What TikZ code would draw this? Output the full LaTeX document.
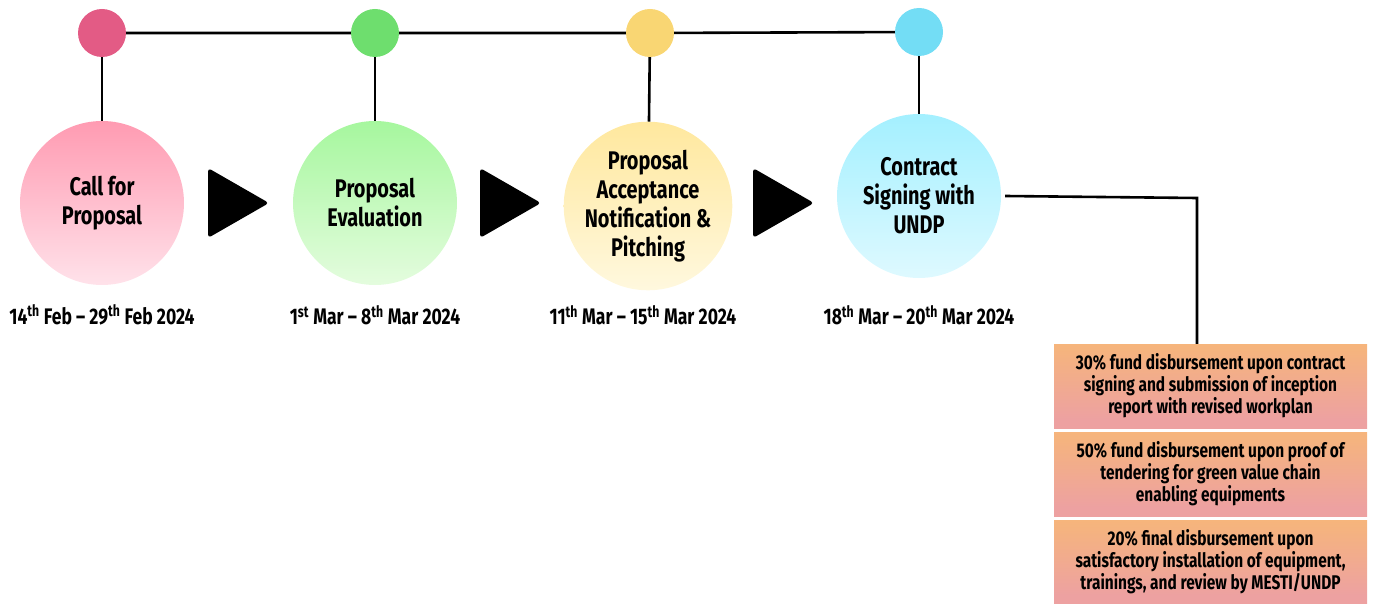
\documentclass[tikz,border=0pt]{standalone}
\usepackage{fontspec}
\setmainfont{Fira Sans}[FakeStretch=0.78]
\usetikzlibrary{calc}
\definecolor{dpink}{HTML}{E35B85}
\definecolor{dgreen}{HTML}{6EDE6E}
\definecolor{dyellow}{HTML}{F9D673}
\definecolor{dcyan}{HTML}{73DDF5}
\definecolor{fsA}{HTML}{F6C7C5}
\definecolor{fsB}{HTML}{EDA1A1}
\definecolor{fsC}{HTML}{F5B37F}
\definecolor{fsD}{HTML}{FABE6B}
\pgfdeclareverticalshading{fundshade}{100bp}{
  color(0bp)=(fsA);
  color(4bp)=(fsA);
  color(22bp)=(fsB);
  color(30bp)=(fsB);
  color(70bp)=(fsC);
  color(100bp)=(fsD)}
\begin{document}
\begin{tikzpicture}[x=1pt,y=-1pt,
  dot/.style={circle,minimum size=48pt,inner sep=0pt},
  stage/.style={circle,minimum size=164pt,inner sep=0pt,align=center,font=\bfseries\fontsize{25.5}{29}\selectfont},
  datelbl/.style={font=\bfseries\fontsize{22.5}{26}\selectfont,inner sep=0pt},
  link/.style={line width=2.6pt,black},
  playtip/.style={fill=black,rounded corners=3.5pt},
  fundbox/.style={rectangle,minimum width=313pt,minimum height=84pt,inner sep=0pt,align=center,
    shading=fundshade,
    font=\bfseries\fontsize{19.8}{22}\selectfont}]
\useasboundingbox (0,0) rectangle (1376,604);
% small dots
\node[dot,fill=dpink] (s1) at (102,33) {};
\node[dot,fill=dgreen] (s2) at (375,33) {};
\node[dot,fill=dyellow] (s3) at (650,33) {};
\node[dot,fill=dcyan] (s4) at (919,32) {};
% stages
\node[stage,top color={rgb,255:red,255;green,155;blue,178},bottom color={rgb,255:red,255;green,226;blue,234}] (c1) at (102,203) {Call for\\Proposal};
\node[stage,top color={rgb,255:red,166;green,247;blue,158},bottom color={rgb,255:red,228;green,252;blue,222}] (c2) at (375,203) {Proposal\\Evaluation};
\node[stage,top color={rgb,255:red,255;green,232;blue,158},bottom color={rgb,255:red,255;green,248;blue,222}] (c3) at (648,206) {Proposal\\Acceptance\\Notification \&\\Pitching};
\node[stage,top color={rgb,255:red,164;green,240;blue,255},bottom color={rgb,255:red,222;green,249;blue,255}] (c4) at (919,196) {Contract\\Signing with\\UNDP};
% connectors
\draw[link] (s1) -- (s2) -- (s3) -- (s4);
\draw[link] (s1) -- (c1);
\draw[link] (s2) -- (c2);
\draw[link] (s3) -- (c3);
\draw[link] (s4) -- (c4);
% play arrows
\fill[playtip] (208,168) -- (269,203) -- (208,238) -- cycle;
\fill[playtip] (480,168) -- (541,203) -- (480,238) -- cycle;
\fill[playtip] (753,168) -- (814,203) -- (753,238) -- cycle;
% dates
\node[datelbl] (d1) at (102,315) {14\textsuperscript{th} Feb -- 29\textsuperscript{th} Feb 2024};
\node[datelbl] (d2) at (375,315) {1\textsuperscript{st} Mar -- 8\textsuperscript{th} Mar 2024};
\node[datelbl] (d3) at (643,315) {11\textsuperscript{th} Mar -- 15\textsuperscript{th} Mar 2024};
\node[datelbl] (d4) at (919,315) {18\textsuperscript{th} Mar -- 20\textsuperscript{th} Mar 2024};
% boxes
\node[fundbox] (b1) at (1210.5,386) {30\% fund disbursement upon contract\\signing and submission of inception\\report with revised workplan};
\node[fundbox] (b2) at (1210.5,474) {50\% fund disbursement upon proof of\\tendering for green value chain\\enabling equipments};
\node[fundbox] (b3) at (1210.5,562) {20\% final disbursement upon\\satisfactory installation of equipment,\\trainings, and review by MESTI/UNDP};
\coordinate (k) at (1197,198);
\draw[link] ($(c4.east)+(4,0)$) -- (k) -- (k |- b1.north);
\end{tikzpicture}
\end{document}
